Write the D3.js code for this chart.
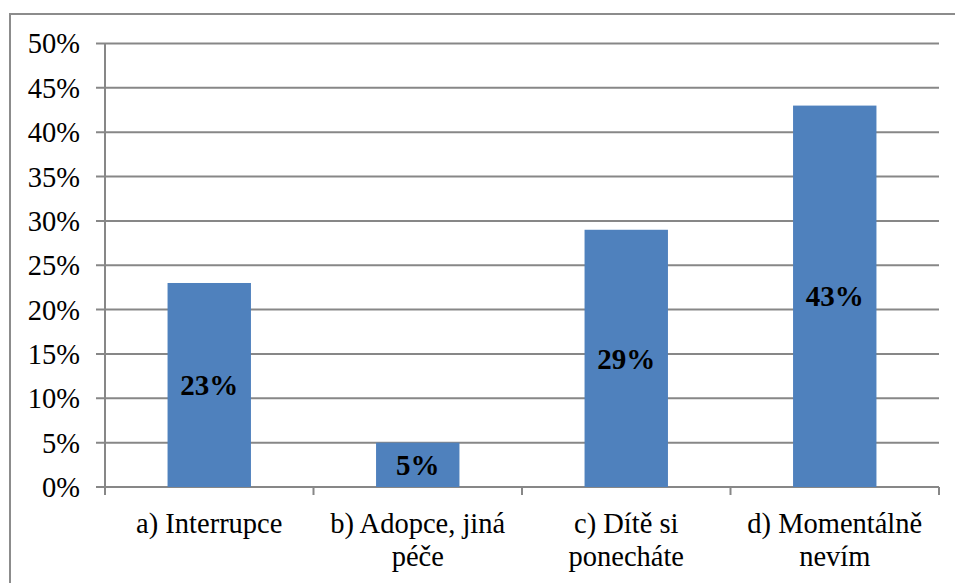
<!DOCTYPE html>
<html>
<head>
<meta charset="utf-8">
<script src="https://cdn.jsdelivr.net/npm/d3@7"></script>
<style>
  html, body { margin: 0; padding: 0; background: #fff; }
  svg { display: block; }
  text { font-family: "Liberation Serif", "Times New Roman", serif; fill: #000; }
</style>
</head>
<body>
<svg id="chart" width="955" height="583"></svg>
<script>
// Answers to the question: what would you do?
const categories = [
  ["a) Interrupce"],
  ["b) Adopce, jiná", "péče"],
  ["c) Dítě si", "ponecháte"],
  ["d) Momentálně", "nevím"]
];
const values = [23, 5, 29, 43];
const yTicks = [0, 5, 10, 15, 20, 25, 30, 35, 40, 45, 50];

const svg = d3.select("#chart");
const W = 955, H = 583;
const plot = { left: 105, right: 939, top: 43.5, bottom: 487 };
const gridColor = "#878787";
const fontSize = 28.5;

// chart frame
svg.append("rect")
  .attr("x", 10).attr("y", 14)
  .attr("width", W).attr("height", H)
  .attr("fill", "#fff")
  .attr("stroke", "#8c8c8c").attr("stroke-width", 2);

const x = d3.scaleBand()
  .domain(d3.range(categories.length))
  .range([plot.left, plot.right])
  .paddingInner(0)
  .paddingOuter(0);

const y = d3.scaleLinear().domain([0, 50]).range([plot.bottom, plot.top]);

// horizontal gridlines + left tick stubs
svg.append("g").selectAll("line")
  .data(yTicks)
  .join("line")
  .attr("x1", plot.left - 9).attr("x2", plot.right)
  .attr("y1", d => y(d)).attr("y2", d => y(d))
  .attr("stroke", gridColor).attr("stroke-width", 2);

// y-axis line
svg.append("line")
  .attr("x1", plot.left).attr("x2", plot.left)
  .attr("y1", plot.top).attr("y2", plot.bottom + 8)
  .attr("stroke", gridColor).attr("stroke-width", 2);

// x-axis category tick marks
const xTickPos = d3.range(categories.length + 1).map(i => plot.left + i * x.step());
svg.append("g").selectAll("line")
  .data(xTickPos)
  .join("line")
  .attr("x1", d => d).attr("x2", d => d)
  .attr("y1", plot.bottom).attr("y2", plot.bottom + 8)
  .attr("stroke", gridColor).attr("stroke-width", 2);

// y tick labels
svg.append("g").selectAll("text")
  .data(yTicks)
  .join("text")
  .attr("x", 80)
  .attr("y", d => y(d))
  .attr("dy", "0.35em")
  .attr("text-anchor", "end")
  .attr("font-size", fontSize)
  .text(d => d + "%");

// bars
const barW = x.step() * 0.4;
svg.append("g").selectAll("rect")
  .data(values)
  .join("rect")
  .attr("x", (d, i) => x(i) + x.bandwidth() / 2 - barW / 2)
  .attr("width", barW)
  .attr("y", d => y(d))
  .attr("height", d => y(0) - y(d))
  .attr("fill", "#4F81BD");

// value labels centred in each bar
svg.append("g").selectAll("text")
  .data(values)
  .join("text")
  .attr("x", (d, i) => x(i) + x.bandwidth() / 2)
  .attr("y", d => (y(d) + y(0)) / 2)
  .attr("dy", "0.35em")
  .attr("text-anchor", "middle")
  .attr("font-size", 29)
  .attr("font-weight", "bold")
  .text(d => d + "%");

// category labels
const catG = svg.append("g").selectAll("text")
  .data(categories)
  .join("text")
  .attr("text-anchor", "middle")
  .attr("font-size", fontSize);
catG.each(function(lines, i) {
  const t = d3.select(this);
  lines.forEach((ln, j) => {
    t.append("tspan")
      .attr("x", x(i) + x.bandwidth() / 2)
      .attr("y", 523 + j * 33)
      .attr("dy", "0.35em")
      .text(ln);
  });
});
</script>
</body>
</html>
